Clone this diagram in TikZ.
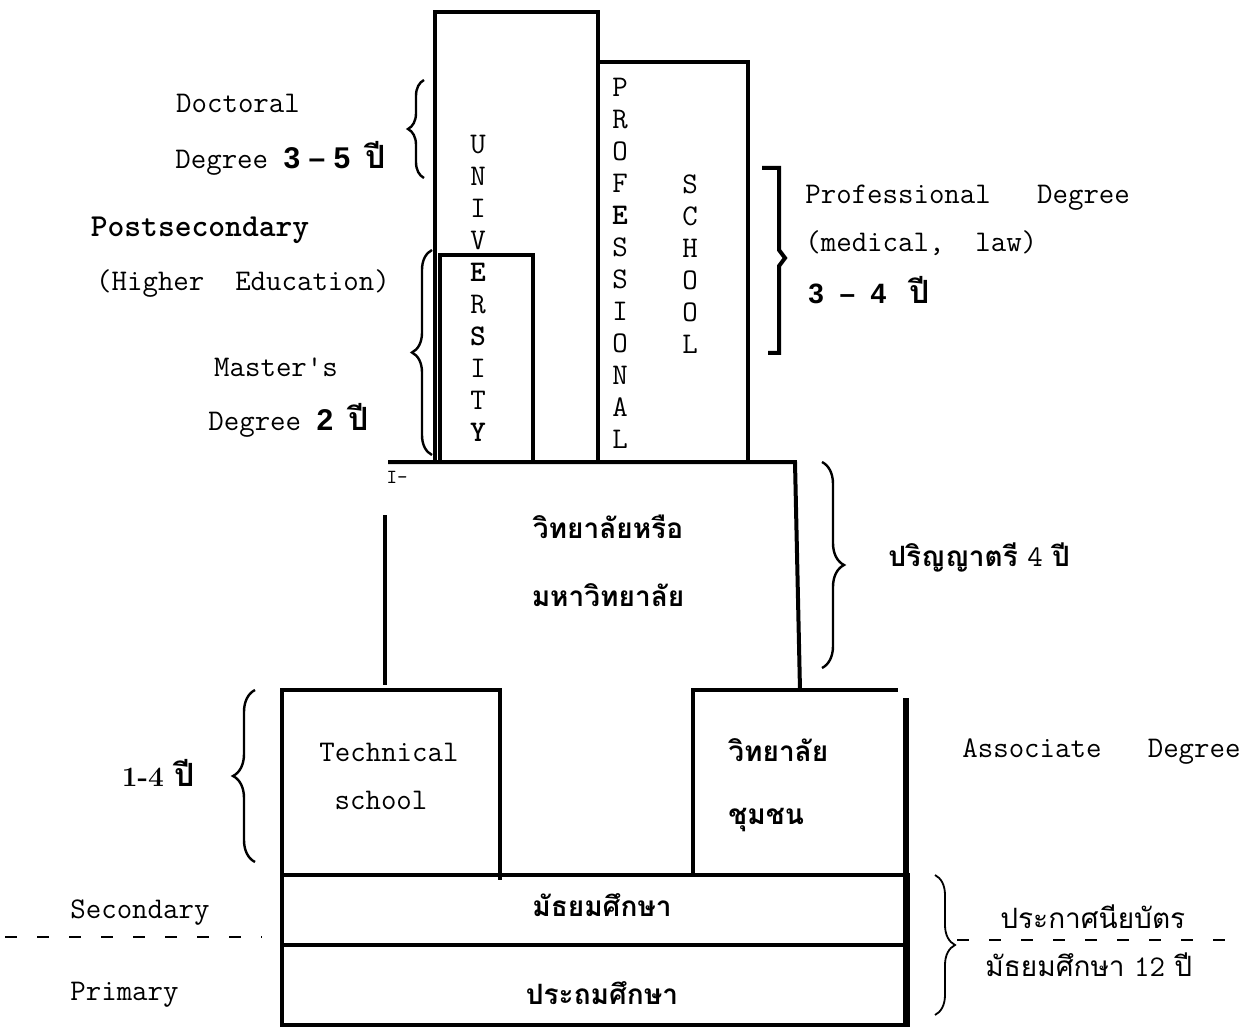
\documentclass[tikz,border=0pt]{standalone}
\usepackage{fontspec}
\newfontfamily\thaifont[Script=Thai]{Loma}
\newfontfamily\numfont{Liberation Sans}
\usetikzlibrary{positioning,decorations.pathreplacing}

\begin{document}
\begin{tikzpicture}[x=0.5pt,y=-0.5pt,line join=miter,
    wall/.style={line width=2pt},
    txt/.style={font=\fontsize{15}{17}\selectfont\ttfamily,inner sep=0pt},
    thtxt/.style={font=\fontsize{14}{17}\selectfont\thaifont\bfseries,inner sep=0pt},
    stack/.style={font=\fontsize{15}{16}\selectfont\ttfamily,align=center,inner sep=0pt},
    curly/.style={decorate,decoration={brace,amplitude=#1},line width=1.2pt},
    cut/.style={dash pattern=on 6pt off 10pt,line width=0.8pt},
    node distance=27pt]
  \useasboundingbox (0,0) rectangle (1254,1027);
  % university, master and professional school
  \draw[wall] (435,462) -- (435,12) -- (598,12) -- (598,462);
  \draw[wall, line width=1.8pt] (440,462) -- (440,255) -- (533,255) -- (533,462);
  \draw[wall] (598,62) -- (748,62) -- (748,462);
  \draw[wall] (388,462) -- (795,462) -- (800,690);
  \draw[wall] (385,515) -- (385,685);
  % technical school, community college, secondary, primary
  \draw[wall] (282,875) -- (282,690) -- (500,690) -- (500,880);
  \draw[wall] (693,875) -- (693,690) -- (898,690);
  \draw[line width=2.6pt] (906,698) -- (906,1025);
  \draw[wall] (282,875) rectangle (908,1025);
  \draw[wall] (282,945) -- (908,945);

  \node[stack] (univ) at (478,288) {U\\N\\I\\V\\\textbf{E}\\R\\\textbf{S}\\I\\T\\\textbf{Y}};
  \node[stack] (prof) at (620,263) {P\\R\\O\\F\\\textbf{E}\\S\\S\\I\\O\\N\\A\\L};
  \node[stack] (school) at (690,264) {S\\C\\H\\O\\O\\L};

  \node[txt] (doc) at (238,103) {Doctoral};
  \node[txt, anchor=west] (docdeg) at (175,158)
    {Degree {\numfont\bfseries 3 \textendash\ 5} {\thaifont\bfseries\fontsize{16}{18}\selectfont ปี}};
  \node[txt, font=\fontsize{16}{18}\selectfont\ttfamily\bfseries] (post) at (200,230) {Postsecondary};
  \node[txt] (higher) at (243,284) {(Higher\ \ Education)};
  \node[txt] (master) at (276,367) {Master\textquotesingle s};
  \node[txt, anchor=west] (masdeg) at (208,420)
    {Degree {\numfont\bfseries 2} {\thaifont\bfseries\fontsize{16}{18}\selectfont ปี}};

  \node[txt, anchor=west] (pdeg) at (805,198) {Professional\ \ \ Degree};
  \node[txt, anchor=west] (plaw) at (805,243) {(medical,\ \ law)};
  \node[anchor=west, inner sep=0pt] (pyear) at (808,290)
    {\numfont\bfseries\fontsize{14}{16}\selectfont 3\ \ \textendash\ \ 4\ \ \ {\thaifont\fontsize{16}{18}\selectfont ปี}};

  \node[txt, font=\fontsize{10}{11}\selectfont\ttfamily] (tick) at (397,477) {I-};
  \node[thtxt] (uni1) at (608,527) {วิทยาลัยหรือ};
  \node[thtxt] (uni2) [below of = uni1, node distance=34pt] {มหาวิทยาลัย};
  \node[thtxt, anchor=west] (bach) at (888,557) {ปริญญาตรี {\ttfamily\mdseries\fontsize{15}{17}\selectfont 4} ปี};

  \node[anchor=east, inner sep=0pt] (yrs) at (195,773)
    {\bfseries\fontsize{14}{16}\selectfont\rmfamily 1-4 {\thaifont\fontsize{16}{18}\selectfont ปี}};
  \node[txt] (tech) at (389,752) {Technical};
  \node[txt] (techsch) [below of = tech, node distance=24pt, xshift=-4pt] {school};
  \node[thtxt, anchor=west] (cc1) at (728,750) {วิทยาลัย};
  \node[thtxt, anchor=west] (cc2) at (728,820) {ชุมชน};
  \node[txt, anchor=west] (assoc) at (962,752) {Associate\ \ \ Degree};

  \node[txt, anchor=west] (sec) at (70,913) {Secondary};
  \node[txt, anchor=west] (prim) at (70,995) {Primary};
  \node[thtxt] (secth) at (602,905) {มัธยมศึกษา};
  \node[thtxt] (primth) at (602,993) {ประถมศึกษา};
  \node[thtxt, font=\fontsize{14}{17}\selectfont\thaifont, anchor=west] (cert1) at (1000,917) {ประกาศนียบัตร};
  \node[thtxt, font=\fontsize{14}{17}\selectfont\thaifont, anchor=west] (cert2) at (985,965) {มัธยมศึกษา {\ttfamily\fontsize{15}{17}\selectfont 12} ปี};

  % braces
  \draw[curly=8pt] (424,178) -- (424,80);
  \draw[curly=10pt] (432,455) -- (432,250);
  \draw[line width=2pt] (762,168) -- (779,168) -- (779,250) -- (785,258)
    -- (779,266) -- (779,353) -- (768,353);
  \draw[curly=11pt] (822,462) -- (822,668);
  \draw[curly=11pt] (255,862) -- (255,690);
  \draw[curly=10pt,line width=0.9pt] (935,875) -- (935,1015);
  \draw[cut] (5,937) -- (262,937);
  \draw[cut] (957,940) -- (1240,940);
\end{tikzpicture}
\end{document}
